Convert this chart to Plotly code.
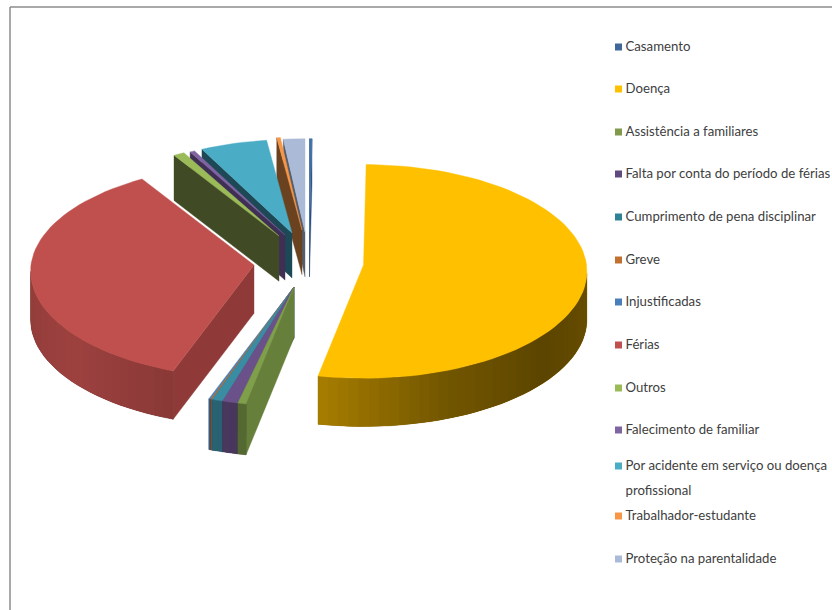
import numpy as np
import plotly.graph_objects as go

categories = ["Casamento", "Doença", "Assistência a familiares", "Falta por conta do período de férias",
              "Cumprimento de pena disciplinar", "Greve", "Injustificadas", "Férias", "Outros",
              "Falecimento de familiar", "Por acidente em serviço ou doença<br>profissional",
              "Trabalhador-estudante", "Proteção na parentalidade"]
values = [0.2, 52.88, 0.54, 1.0, 0.7, 0.1, 0.14, 35.6, 0.9, 0.4, 5.48, 0.3, 1.77]

top_colors = ["#3F6FA8", "#FFC000", "#7F9F4A", "#6B5189", "#3A8CA3", "#B8702F", "#4A7EBB",
              "#C0504D", "#9BBB59", "#8064A2", "#4BACC6", "#F79646", "#AABAD7"]
legend_colors = ["#3F6797", "#FFC000", "#7F9A4A", "#5F4A7F", "#2F8296", "#C0702F", "#4A7EBB",
                 "#C0504D", "#9BBB59", "#8064A2", "#4BACC6", "#F79646", "#AABAD7"]
wall_colors = ["#2A4A78", "#7A5C00", "#667F3A", "#4A3A62", "#2A6A7E", "#8A5520", "#3A6090",
               "#8F3A38", "#404B25", "#3F2F55", "#1D4855", "#6B4220", "#555D6B"]

# layout of the exploded pie (style constants, in pixels of the page)
CX, CY = 305.0, 263.0
RX, RY, P, DEPTH = 222.0, 106.0, 0.06, 48.0
offsets = [(4.5, -31), (58.5, 2), (-11, 24), (-11, 24), (-11, 24), (-11, 24), (-11, 24),
           (-51, 2), (-26, -27), (-20, -28), (-13, -30), (-3, -33), (0, -31)]
draw_order = [0, 12, 11, 10, 9, 8, 7, 1, 6, 5, 4, 3, 2]
legend_y = [47, 89, 132, 174, 217, 260, 302, 345, 388, 430, 466, 516, 559]
LINE_GAP = 25

shade_t = [0, 90, 130, 160, 190, 200, 230, 270, 360]
shade_f = [.5, .42, .36, .45, .65, .72, .82, .75, .6]


def scale_hex(c, f):
    r, g, b = (int(c[i:i + 2], 16) for i in (1, 3, 5))
    return f"rgb({int(r * f)},{int(g * f)},{int(b * f)})"


fig = go.Figure()


def poly(xs, ys, color, width=0.4):
    fig.add_trace(go.Scatter(x=list(xs) + [xs[0]], y=list(ys) + [ys[0]], mode="lines", fill="toself",
                             fillcolor=color, line=dict(color=color, width=width),
                             hoverinfo="skip", showlegend=False))


shares = np.array(values) / np.sum(values) * 360.0
ends = np.cumsum(shares)
starts = ends - shares

for i in draw_order:
    dx, dy = offsets[i]
    ax, ay = CX + dx, CY + dy
    k = 1.0 / (1.0 - 0.0023 * dy)
    depth = DEPTH * k
    n = max(2, int(shares[i] / 2.5) + 2)
    t = np.radians(np.linspace(starts[i], ends[i], n))
    s = 1.0 / (1.0 + P * np.cos(t))
    ox = ax + RX * k * np.sin(t) * s
    oy = ay - RY * k * np.cos(t) * s
    # radial wall at the start of the slice
    if ox[0] < ax + 0.5:
        poly([ax, ox[0], ox[0], ax], [ay, oy[0], oy[0] + depth, ay + depth], wall_colors[i])
    # radial wall at the end of the slice, facing the viewer only when it runs leftwards
    if ax < ox[-1]:
        poly([ox[-1], ax, ax, ox[-1]], [oy[-1], ay, ay + depth, oy[-1] + depth], wall_colors[i])
    # rim: one solid underlay, then shaded strips overlapping each other
    front = ox[1:] < ox[:-1]
    if front.any():
        idx = np.nonzero(front)[0]
        a0, a1 = idx[0], idx[-1] + 1
        poly(list(ox[a0:a1 + 1]) + list(ox[a0:a1 + 1][::-1]),
             list(oy[a0:a1 + 1]) + list((oy[a0:a1 + 1] + depth)[::-1]),
             scale_hex(top_colors[i], 0.55))
        for a in idx:
            b = min(a + 2, n - 1)
            mid = np.degrees((t[a] + t[a + 1]) / 2)
            f = np.interp(mid, shade_t, shade_f)
            poly([ox[a], ox[b], ox[b], ox[a]],
                 [oy[a], oy[b], oy[b] + depth, oy[a] + depth], scale_hex(top_colors[i], f), width=0)
    # top face
    poly([ax] + list(ox), [ay] + list(oy), top_colors[i])

# key
for name, color, y in zip(categories, legend_colors, legend_y):
    fig.add_trace(go.Scatter(x=[618.5], y=[y], mode="markers", hoverinfo="skip", showlegend=False,
                             marker=dict(symbol="square", size=7, color=color)))
    for j, line in enumerate(name.split("<br>")):
        fig.add_trace(go.Scatter(x=[625.5], y=[y + 1 + j * LINE_GAP], mode="text", text=[line],
                                 textposition="middle right", hoverinfo="skip", showlegend=False,
                                 textfont=dict(family="Lato", size=13.2, color="#404040")))

# frame
fig.add_shape(type="line", x0=10, x1=832, y0=7, y1=7, line=dict(color="#8C8C8C", width=1.5))
fig.add_shape(type="line", x0=10, x1=10, y0=7, y1=610, line=dict(color="#8C8C8C", width=1.5))

fig.update_layout(width=832, height=610, margin=dict(l=0, r=0, t=0, b=0), paper_bgcolor="white",
                  plot_bgcolor="white", showlegend=False, hovermode=False,
                  xaxis=dict(range=[0, 832], visible=False, fixedrange=True),
                  yaxis=dict(range=[610, 0], visible=False, fixedrange=True))
fig.write_html("out.html", config=dict(displayModeBar=False),
               post_script="document.body.style.margin='0';document.body.style.overflow='hidden';")
